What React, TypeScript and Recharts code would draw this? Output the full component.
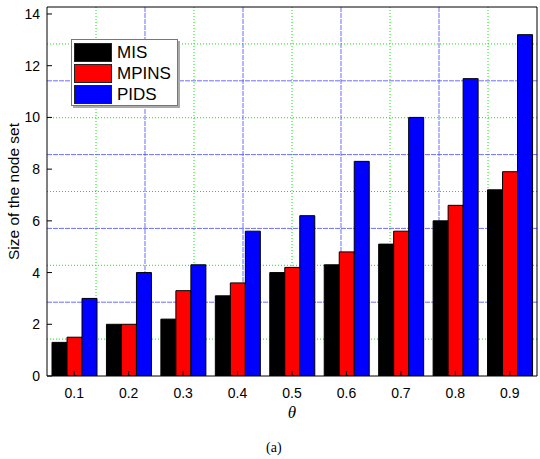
import { Bar, BarChart, CartesianGrid, Label, Legend, XAxis, YAxis } from "recharts";

const THETA = ["0.1", "0.2", "0.3", "0.4", "0.5", "0.6", "0.7", "0.8", "0.9"];
const MIS = [1.3, 2.0, 2.2, 3.1, 4.0, 4.3, 5.1, 6.0, 7.2];
const MPINS = [1.5, 2.0, 3.3, 3.6, 4.2, 4.8, 5.6, 6.6, 7.9];
const PIDS = [3.0, 4.0, 4.3, 5.6, 6.2, 8.3, 10.0, 11.5, 13.2];

const Y_TICKS = [0, 2, 4, 6, 8, 10, 12, 14];
const Y_MINOR = [1, 3, 5, 7, 9, 11, 13];
const X_BOUNDS = [1, 2, 3, 4, 5, 6, 7, 8];
// the frame grid is 10 x 10, not tied to the ticks
const GRID_ALL = [1, 2, 3, 4, 5, 6, 7, 8, 9];
const GRID_GREEN = [1, 3, 5, 7, 9];
const GRID_BLUE = [2, 4, 6, 8];

const data = THETA.map((theta, i) => ({
  theta,
  MIS: MIS[i],
  MPINS: MPINS[i],
  PIDS: PIDS[i],
}));

const FONT = "'Liberation Sans', Arial, sans-serif";

function LegendBox({ payload }: any) {
  return (
    <div
      style={{
        width: 103,
        height: 63,
        background: "#fff",
        border: "1px solid #777",
        boxShadow: "2px 2px 0 #aaa",
        padding: "2px 0 0 2px",
        boxSizing: "content-box",
        fontFamily: FONT,
      }}
    >
      {(payload || []).map((p: any) => (
        <div key={p.value} style={{ display: "flex", alignItems: "center", height: 21 }}>
          <span
            style={{
              display: "inline-block",
              width: 36,
              height: 17,
              background: p.color,
              border: "1px solid #222",
            }}
          />
          <span style={{ marginLeft: 5, fontSize: 17, color: "#000" }}>{p.value}</span>
        </div>
      ))}
    </div>
  );
}

const gridAt = (steps: number[], horizontal: boolean) => ({ offset }: any) =>
  steps.map((k) =>
    horizontal ? offset.top + (offset.height * k) / 10 : offset.left + (offset.width * k) / 10
  );

export default function App() {
  return (
    <div style={{ position: "absolute", left: 0, top: 0, width: 540, height: 459, background: "#fff" }}>
      <BarChart
        width={540}
        height={459}
        data={data}
        margin={{ top: 7, right: 3, bottom: 38, left: 7 }}
        barGap={0}
        barCategoryGap={5}
        style={{ fontFamily: FONT }}
      >
        <CartesianGrid
          stroke="#00f000"
          strokeDasharray="1 2"
          horizontalCoordinatesGenerator={gridAt(GRID_GREEN, true)}
          verticalCoordinatesGenerator={gridAt(GRID_GREEN, false)}
        />
        <CartesianGrid
          stroke="#4a4aff"
          strokeOpacity={0.8}
          strokeDasharray="5 1"
          horizontalCoordinatesGenerator={gridAt(GRID_BLUE, true)}
          verticalCoordinatesGenerator={gridAt(GRID_BLUE, false)}
        />
        <Legend
          layout="vertical"
          align="center"
          verticalAlign="middle"
          wrapperStyle={{ left: 71, top: 39, width: "auto" }}
          content={<LegendBox />}
        />
        <Bar dataKey="MIS" name="MIS" fill="#000000" stroke="#000" isAnimationActive={false} />
        <Bar dataKey="MPINS" name="MPINS" fill="#ff0000" stroke="#000" isAnimationActive={false} />
        <Bar dataKey="PIDS" name="PIDS" fill="#0000ff" stroke="#000" isAnimationActive={false} />

        <XAxis
          dataKey="theta"
          height={45}
          tickSize={-5}
          tickMargin={17}
          stroke="#000"
          tick={{ fontSize: 14, fill: "#000" }}
        >
          <Label
            value="θ"
            position="insideBottom"
            offset={3}
            style={{ fontFamily: "'Liberation Serif', 'Times New Roman', serif", fontStyle: "italic", fontSize: 17, fill: "#000" }}
          />
        </XAxis>
        <XAxis
          xAxisId="bounds"
          type="number"
          domain={[0, THETA.length]}
          ticks={X_BOUNDS}
          allowDataOverflow
          mirror
          height={1}
          axisLine={false}
          tick={false}
          tickSize={3}
          tickLine={{ stroke: "#000" }}
        />
        <XAxis
          xAxisId="top"
          orientation="top"
          type="number"
          domain={[0, 10]}
          ticks={GRID_ALL}
          allowDataOverflow
          mirror
          height={1}
          tick={false}
          tickSize={5}
          stroke="#000"
        />
        <YAxis
          domain={[0, 14.27]}
          ticks={Y_TICKS}
          allowDataOverflow
          width={40}
          tickSize={-5}
          tickMargin={12}
          stroke="#000"
          tick={{ fontSize: 14, fill: "#000" }}
        >
          <Label
            value="Size of the node set"
            angle={-90}
            position="insideLeft"
            offset={6}
            style={{ textAnchor: "middle", fontSize: 15.5, fill: "#000" }}
          />
        </YAxis>
        <YAxis
          yAxisId="minor"
          domain={[0, 14.27]}
          ticks={Y_MINOR}
          allowDataOverflow
          mirror
          width={1}
          axisLine={false}
          tick={false}
          tickSize={3}
          tickLine={{ stroke: "#000" }}
        />
        <YAxis
          yAxisId="right"
          orientation="right"
          domain={[0, 10]}
          ticks={GRID_ALL}
          allowDataOverflow
          mirror
          width={1}
          tick={false}
          tickSize={4}
          stroke="#000"
        />
      </BarChart>
      <div
        style={{
          position: "absolute",
          left: 266,
          top: 440,
          fontFamily: "'Liberation Serif', 'Times New Roman', serif",
          fontSize: 14,
          color: "#000",
        }}
      >
        (a)
      </div>
    </div>
  );
}
